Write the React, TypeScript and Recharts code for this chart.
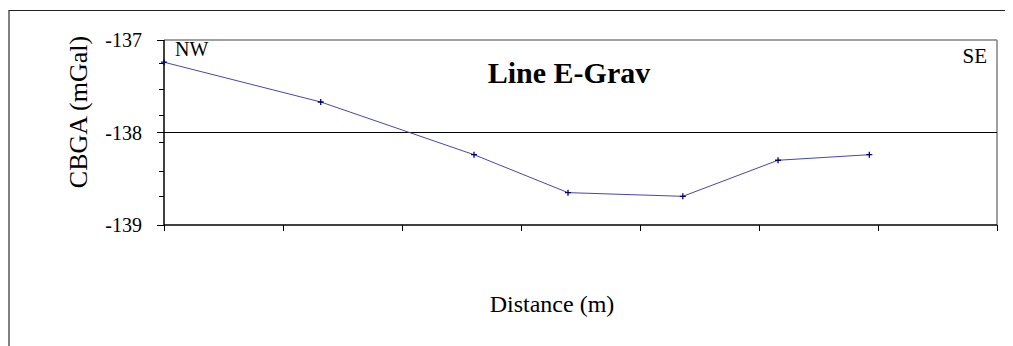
import React from 'react';
import { LineChart, Line, XAxis, YAxis, ReferenceLine } from 'recharts';

const DISTANCE = [0, 131.7, 260.5, 339.5, 436, 516, 592.7];
const CBGA = [-137.24, -137.67, -138.24, -138.65, -138.69, -138.3, -138.24];
const Y_MAJOR = [-139, -138, -137];
const Y_MINOR = [-138.69, -138.42, -138.11, -137.82, -137.53, -137.25];
const X_TICKS = [0, 100, 200, 300, 400, 500, 600, 700];
const TITLE = 'Line E-Grav';
const LEFT_END = 'NW';
const RIGHT_END = 'SE';
const X_LABEL = 'Distance (m)';
const Y_LABEL = 'CBGA (mGal)';

const data = DISTANCE.map((x, i) => ({ x, y: CBGA[i] }));
const yTicks = [...Y_MAJOR, ...Y_MINOR].sort((a, b) => a - b);

const FONT = "'Liberation Serif', 'Times New Roman', serif";

const YTick = (props: any) => {
  const { x, y, payload } = props;
  const major = Y_MAJOR.includes(payload.value);
  return (
    <g>
      <line x1={x - (major ? 7 : 5)} x2={x} y1={y} y2={y} stroke="#000" strokeWidth={1} shapeRendering="crispEdges" />
      {major && (
        <text x={x - 22} y={y} textAnchor="end" dominantBaseline="central" fontFamily={FONT} fontSize={20} fill="#000">
          {payload.value}
        </text>
      )}
    </g>
  );
};

const XTick = (props: any) => {
  const { x, y } = props;
  return <line x1={x} x2={x} y1={y} y2={y + 6} stroke="#000" strokeWidth={1} shapeRendering="crispEdges" />;
};

const PlusDot = (props: any) => {
  const { cx, cy, index } = props;
  if (cx == null || cy == null) return null;
  return (
    <path
      key={`d-${index}`}
      d={`M${cx - 3},${cy}H${cx + 3}M${cx},${cy - 3}V${cy + 3}`}
      stroke="#000080"
      strokeWidth={1.3}
      fill="none"
    />
  );
};

const renderTopTexts = () => (
  <g fontFamily={FONT} fill="#000">
    <text x={561} y={75} textAnchor="middle" fontSize={30} fontWeight="bold">{TITLE}</text>
    <text x={167} y={48} textAnchor="start" fontSize={20}>{LEFT_END}</text>
    <text x={979} y={55} textAnchor="end" fontSize={21}>{RIGHT_END}</text>
  </g>
);

const renderXLabel = () => (
  <text x={544} y={304} textAnchor="middle" fontFamily={FONT} fontSize={24} fill="#000">{X_LABEL}</text>
);

const renderYLabel = () => (
  <text
    x={70}
    y={104}
    textAnchor="middle"
    dominantBaseline="central"
    transform="rotate(-90, 70, 104)"
    fontFamily={FONT}
    fontSize={26}
    fill="#000"
  >
    {Y_LABEL}
  </text>
);

export default function App() {
  return (
    <div style={{ position: 'relative', width: 1005, height: 338 }}>
      <div
        style={{
          position: 'absolute',
          left: 0,
          top: 2,
          width: 1005,
          height: 336,
          borderTop: '1px solid #222',
          borderLeft: '2px solid #808080',
          boxSizing: 'border-box',
        }}
      />
      <div style={{ position: 'absolute', left: 0, top: 0 }}>
        <LineChart width={1005} height={338} data={data} margin={{ top: 32, right: 16, left: 0, bottom: 0 }}>
          <XAxis
            dataKey="x"
            type="number"
            domain={[0, 700]}
            ticks={X_TICKS}
            interval={0}
            tick={<XTick />}
            tickLine={false}
            tickSize={0}
            tickMargin={0}
            axisLine={{ stroke: '#000', strokeWidth: 1.5 }}
            height={121}
            label={renderXLabel}
          />
          <YAxis
            type="number"
            domain={[-139, -137]}
            ticks={yTicks}
            interval={0}
            tickLine={false}
            tickSize={0}
            tickMargin={0}
            tick={<YTick />}
            axisLine={{ stroke: '#000', strokeWidth: 1.5 }}
            width={156}
            label={renderYLabel}
          />
          <ReferenceLine y={-137} stroke="#808080" strokeWidth={1.5} label={renderTopTexts} />
          <ReferenceLine x={700} stroke="#808080" strokeWidth={1.5} />
          <ReferenceLine y={-138} stroke="#000" strokeWidth={1} />
          <Line
            type="linear"
            dataKey="y"
            stroke="#4646b4"
            strokeWidth={1}
            dot={<PlusDot />}
            activeDot={false}
            isAnimationActive={false}
          />
        </LineChart>
      </div>
    </div>
  );
}
